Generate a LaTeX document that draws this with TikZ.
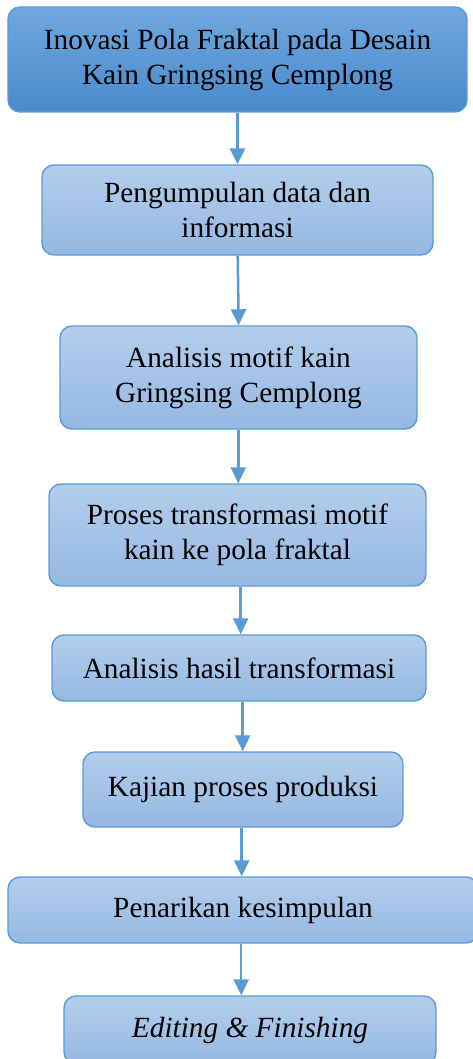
\documentclass[tikz,border=0pt]{standalone}
\usepackage{fontspec}
\setmainfont{Liberation Serif}
\usetikzlibrary{arrows.meta}
\definecolor{edgeblue}{HTML}{5B9BD5}
\definecolor{darktop}{HTML}{70A8DE}
\definecolor{darkbot}{HTML}{4A8ACB}
\definecolor{lighttop}{HTML}{B3CEEC}
\definecolor{lightbot}{HTML}{95B8E2}
\tikzset{
  boxbase/.style={draw=edgeblue, line width=1.4pt, rounded corners=12pt, align=center,
    inner sep=0pt, font=\fontsize{29.3}{35}\selectfont},
  topbox/.style={boxbase, top color=darktop, bottom color=darkbot},
  stepbox/.style={boxbase, top color=lighttop, bottom color=lightbot},
  arr/.style={draw=edgeblue, line width=2.5pt, -{Triangle[width=15pt,length=16pt]}}
}
\begin{document}
\begin{tikzpicture}[x=1pt,y=1pt]
\useasboundingbox (0,0) rectangle (473,-1059);
\clip (0,0) rectangle (473,-1059);
\node[topbox, minimum width=459pt, minimum height=105pt] (b1) at (237.5,-59.5)
  {Inovasi Pola Fraktal pada Desain\\Kain Gringsing Cemplong};
\node[stepbox, minimum width=391pt, minimum height=90pt] (b2) at (237.5,-210)
  {Pengumpulan data dan\\informasi};
\node[stepbox, minimum width=357pt, minimum height=103pt] (b3) at (238.5,-377.5)
  {Analisis motif kain\\Gringsing Cemplong};
\node[stepbox, minimum width=377pt, minimum height=102pt] (b4) at (237.5,-535)
  {Proses transformasi motif\\kain ke pola fraktal};
\node[stepbox, minimum width=374pt, minimum height=66pt] (b5) at (239,-668)
  {Analisis hasil transformasi};
\node[stepbox, minimum width=320pt, minimum height=75pt] (b6) at (243,-789.5)
  {Kajian proses produksi};
\node[stepbox, minimum width=470pt, minimum height=66pt] (b7) at (243,-910)
  {Penarikan kesimpulan};
\node[stepbox, minimum width=372pt, minimum height=68pt] (b8) at (250,-1030)
  {\itshape Editing \& Finishing};
\draw[arr] (b1.south) -- (b2.north);
\draw[arr] ([xshift=0.2pt]b2.south) -- ([xshift=0.2pt]b3.north);
\draw[arr] ([xshift=-0.2pt]b3.south) -- ([xshift=0.8pt]b4.north);
\draw[arr] ([xshift=3.2pt]b4.south) -- ([xshift=1.7pt]b5.north);
\draw[arr] ([xshift=3.7pt]b5.south) -- ([xshift=-0.3pt]b6.north);
\draw[arr] ([xshift=-1.3pt]b6.south) -- ([xshift=-1.3pt]b7.north);
\draw[arr] ([xshift=-1.8pt]b7.south) -- ([xshift=-8.8pt]b8.north);
\end{tikzpicture}
\end{document}
